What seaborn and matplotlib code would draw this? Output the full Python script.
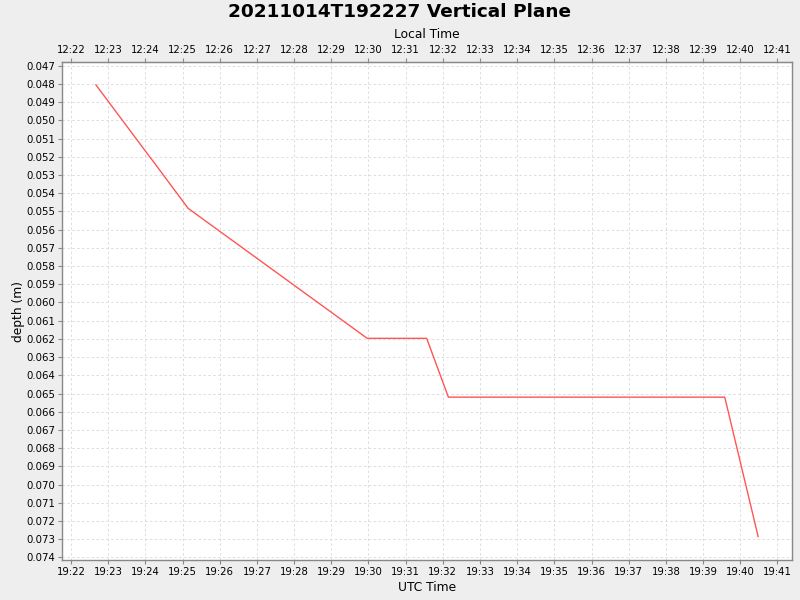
import matplotlib
matplotlib.use("Agg")
import matplotlib.pyplot as plt
import matplotlib.dates as mdates
import seaborn as sns
import pandas as pd
import numpy as np

# Data (UTC times and depth in metres)
utc_times = ["2021-10-14 19:22:40", "2021-10-14 19:24:07", "2021-10-14 19:24:12",
             "2021-10-14 19:25:09", "2021-10-14 19:29:58", "2021-10-14 19:31:34",
             "2021-10-14 19:32:09", "2021-10-14 19:39:35", "2021-10-14 19:40:29"]
depths = [0.04804, 0.05200, 0.05222, 0.05483, 0.06197, 0.06197, 0.06520, 0.06520, 0.07287]
title = "20211014T192227 Vertical Plane"
local_offset_hours = -7

sns.set_style("white")
plt.rcParams['font.family'] = ['DejaVu Sans']
plt.rcParams['text.color'] = 'black'
plt.rcParams['axes.labelcolor'] = 'black'

df = pd.DataFrame({"time": pd.to_datetime(utc_times), "depth": depths})

fig = plt.figure(figsize=(8, 6), dpi=100, facecolor="#EEEEEE")
ax = fig.add_axes([62/800, 1-560.3/600, (792.3-62)/800, (560.3-62.3)/600])
ax.set_facecolor("white")

sns.lineplot(data=df, x="time", y="depth", ax=ax, color="#FF5555", linewidth=1.0,
             estimator=None, sort=False)

t0 = pd.Timestamp("2021-10-14 19:21:45.5")
t1 = pd.Timestamp("2021-10-14 19:41:24")
ax.set_xlim(mdates.date2num(t0), mdates.date2num(t1))
ax.set_ylim(0.07416, 0.04681)

ax.xaxis.set_major_locator(mdates.MinuteLocator())
ax.xaxis.set_major_formatter(mdates.DateFormatter("%H:%M"))
ax.yaxis.set_major_locator(matplotlib.ticker.MultipleLocator(0.001))
ax.yaxis.set_major_formatter(matplotlib.ticker.FormatStrFormatter("%.3f"))

ax.grid(True, color="#DDDDDD", linestyle=(0, (2.5, 2.5)), linewidth=0.7)
for s in ["left", "bottom", "top", "right"]:
    ax.spines[s].set_color("#888888")
    ax.spines[s].set_linewidth(1.0)

ax.tick_params(axis="both", labelsize=7.3, color="#888888", length=3, width=0.8,
               pad=2, labelcolor="black")
ax.tick_params(axis="x", bottom=True)
ax.tick_params(axis="y", left=True)
ax.set_xlabel("UTC Time", fontsize=8.8, labelpad=3)
ax.set_ylabel("depth (m)", fontsize=8.8, labelpad=0.5)

off = local_offset_hours / 24.0
sec = ax.secondary_xaxis("top", functions=(lambda x: x + off, lambda x: x - off))
sec.xaxis.set_major_locator(mdates.MinuteLocator())
sec.xaxis.set_major_formatter(mdates.DateFormatter("%H:%M"))
sec.tick_params(labelsize=7.3, color="#888888", length=3, width=0.8, pad=2,
                labelcolor="black")
sec.spines["top"].set_color("#888888")
sec.set_xlabel("Local Time", fontsize=8.8, labelpad=5, color="black")

fig.suptitle(title, fontsize=13.3, fontweight="bold", y=0.995, color="black")

fig.savefig("out.png", dpi=100, facecolor=fig.get_facecolor())
